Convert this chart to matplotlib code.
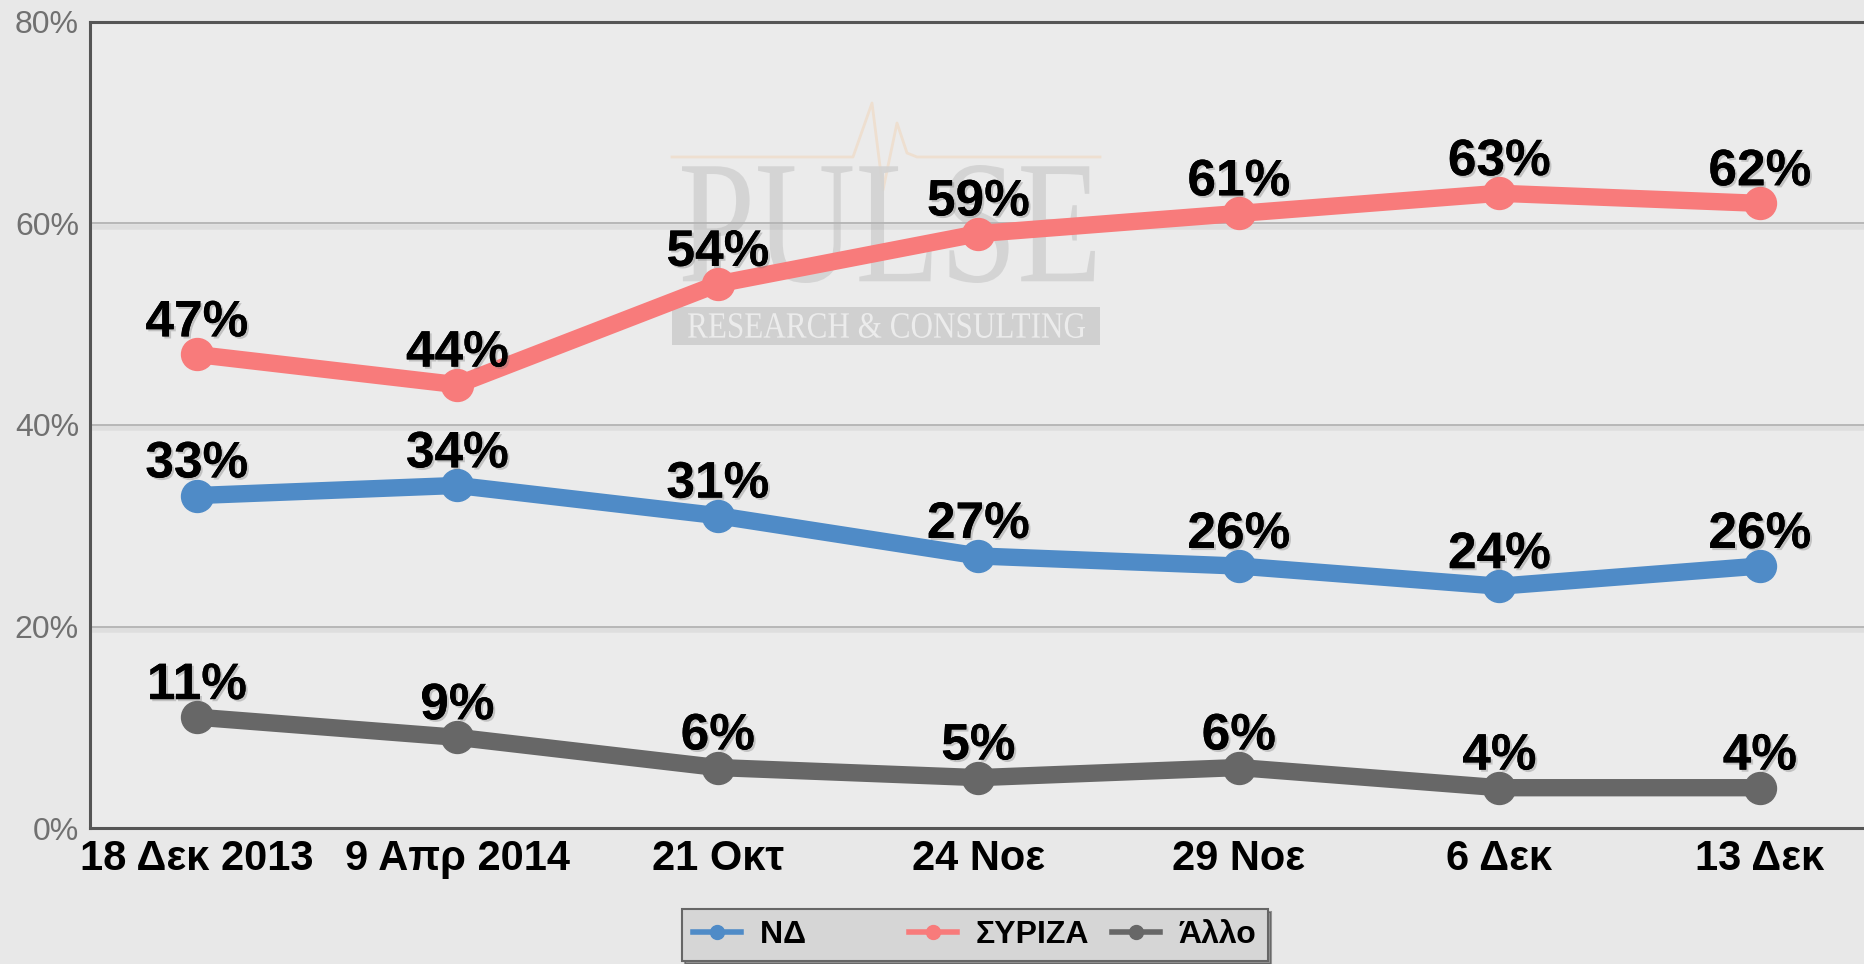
import matplotlib; matplotlib.use("Agg")
import matplotlib.pyplot as plt
import matplotlib.patheffects as pe
from matplotlib import font_manager
from matplotlib.textpath import TextPath
from matplotlib.patches import PathPatch, Rectangle
from matplotlib.transforms import Affine2D
from matplotlib.font_manager import FontProperties
from matplotlib.lines import Line2D

dates = ["18 Δεκ 2013", "9 Απρ 2014", "21 Οκτ", "24 Νοε", "29 Νοε", "6 Δεκ", "13 Δεκ"]
nd = [33, 34, 31, 27, 26, 24, 26]
syriza = [47, 44, 54, 59, 61, 63, 62]
allo = [11, 9, 6, 5, 6, 4, 4]
series = [("ΝΔ", nd, "#4f8bc7"), ("ΣΥΡΙΖΑ", syriza, "#f87b7b"), ("Άλλο", allo, "#676767")]
yticks = [0, 20, 40, 60, 80]

W, H = 1864, 964
bg = "#e8e8e8"
fig = plt.figure(figsize=(W / 100, H / 100), dpi=100, facecolor=bg)
ax = fig.add_axes([90 / W, 1 - 828 / H, 1 - 90 / W, (828 - 22) / H])
ax.set_facecolor("#ebebeb")

# watermark (pixel boxes, y from top)
def boxed_text(s, x0, y0, x1, y1, color, family, alpha=1.0, z=1):
    tp = TextPath((0, 0), s, size=100, prop=FontProperties(family=family))
    bb = tp.get_extents()
    tr = (Affine2D().translate(-bb.x0, -bb.y0)
          .scale((x1 - x0) / bb.width / W, (y1 - y0) / bb.height / H)
          .translate(x0 / W, 1 - y1 / H))
    p = PathPatch(tr.transform_path(tp), transform=fig.transFigure, facecolor=color,
                  edgecolor="none", alpha=alpha, zorder=z)
    ax.add_artist(p)

pulse_x = [672, 853, 872, 883, 897, 907, 917, 1100]
pulse_y = [157, 157, 103, 190, 123, 153, 157, 157]
ax.add_artist(Line2D([x / W for x in pulse_x], [1 - y / H for y in pulse_y],
                     transform=fig.transFigure, color="#eedfd0", lw=2, zorder=1))
boxed_text("PULSE", 682, 165, 1095, 283, "#d2d2d2", "Liberation Serif", 0.9)
ax.add_artist(Rectangle((672 / W, 1 - 345 / H), (1100 - 672) / W, 38 / H,
                        transform=fig.transFigure, facecolor="#d0d0d0", edgecolor="none", zorder=1))
boxed_text("RESEARCH & CONSULTING", 688, 313, 1085, 338, "#ececec", "Liberation Serif", 1.0, 1.1)

for g in [20, 40, 60]:
    ax.axhline(g, color="#b3b3b3", lw=1.3, zorder=1.5,
               path_effects=[pe.SimpleLineShadow(offset=(0, -2.5), shadow_color="#999", alpha=0.15, linewidth=4),
                             pe.Normal()])

x = list(range(len(dates)))
for name, vals, col in series:
    ax.plot(x, vals, color=col, lw=12.5, marker="o", ms=23, solid_capstyle="round", zorder=3)
    for xi, v in zip(x, vals):
        ax.annotate(f"{v}%", (xi, v), xytext=(0, 13), textcoords="offset points",
                    ha="center", va="baseline", fontsize=37, fontweight="bold",
                    family="Liberation Sans", color="#000", zorder=5,
                    path_effects=[pe.withSimplePatchShadow(offset=(1.5, -1.5), shadow_rgbFace="#777", alpha=0.35),
                                  pe.Normal()])

ax.set_xlim(-0.41, 6.4)
ax.set_ylim(0, 80)
ax.set_yticks(yticks)
ax.set_yticklabels([f"{t}%" for t in yticks], fontsize=23, color="#707070", family="Liberation Sans")
ax.set_xticks(x)
ax.set_xticklabels(dates, fontsize=30, fontweight="bold", family="Liberation Sans", color="#000")
ax.tick_params(axis="both", length=0)
ax.tick_params(axis="x", pad=8)
ax.tick_params(axis="y", pad=8)
for s in ["left", "top", "bottom"]:
    ax.spines[s].set_color("#555555")
    ax.spines[s].set_linewidth(2.2)
ax.spines["right"].set_visible(False)

handles = [Line2D([], [], color=c, lw=4, marker="o", ms=10) for _, _, c in series]
labels = ["ΝΔ         ", "ΣΥΡΙΖΑ", "Άλλο"]
leg = fig.legend(handles, labels, loc="center", bbox_to_anchor=(975 / W, 1 - 935 / H), ncol=3,
                 frameon=True, fancybox=False, shadow=True, facecolor="#d6d6d6", edgecolor="#666666",
                 handlelength=1.5, handletextpad=0.6, columnspacing=0.7, borderpad=0.35,
                 prop=FontProperties(family="Liberation Sans", weight="bold", size=23))
leg.get_frame().set_linewidth(1.5)

fig.savefig("out.png", dpi=100, facecolor=bg)
